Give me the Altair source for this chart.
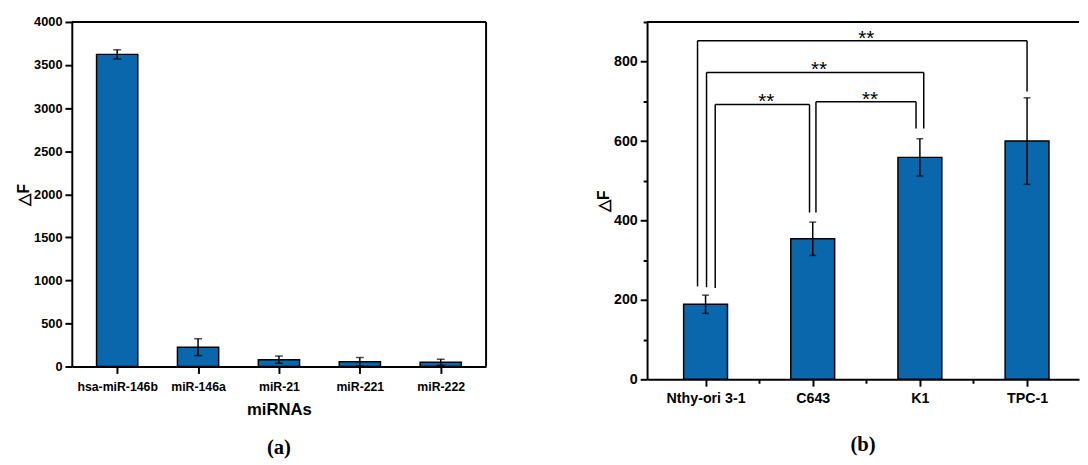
import json
import altair as alt
import pandas as pd

# ---------------- data ----------------
mirnas = ["hsa-miR-146b", "miR-146a", "miR-21", "miR-221", "miR-222"]
mirna_vals = [3624, 225, 80, 55, 50]
mirna_errs = [53, 98, 42, 50, 35]

cells = ["Nthy-ori 3-1", "C643", "K1", "TPC-1"]
cell_vals = [189, 354, 559, 600]
cell_errs = [23, 42, 47, 109]

# significance brackets (panel b)
br_left = ["Nthy-ori 3-1", "C643", "Nthy-ori 3-1", "Nthy-ori 3-1"]
br_right = ["C643", "K1", "K1", "TPC-1"]
br_top = [692, 699, 773, 853]
br_left_low = [230, 420, 232, 234]
br_right_low = [420, 632, 632, 725]
br_text = ["**", "**", "**", "**"]

# ---------------- styling ----------------
BLUE = "#0a67ab"
FONT = "Liberation Sans"
SERIF = "Liberation Serif"
WA, HA = 422, 351
WB, HB = 440, 364
# horizontal offsets of bracket legs from the bar centre (in category units)
LEG_OFF_L = [0.09, 0.03, 0.009, -0.075]
LEG_OFF_R = [-0.03, -0.036, 0.036, 0.0]

df_a = pd.DataFrame({"name": mirnas, "val": mirna_vals, "err": mirna_errs})
df_a["pos"] = range(len(mirnas))
df_a["lo"] = df_a["val"] - df_a["err"]
df_a["hi"] = df_a["val"] + df_a["err"]

df_b = pd.DataFrame({"name": cells, "val": cell_vals, "err": cell_errs})
df_b["pos"] = range(len(cells))
df_b["lo"] = df_b["val"] - df_b["err"]
df_b["hi"] = df_b["val"] + df_b["err"]

rows_h, rows_v, rows_t = [], [], []
for i in range(len(br_left)):
    xl = cells.index(br_left[i]) + LEG_OFF_L[i]
    xr = cells.index(br_right[i]) + LEG_OFF_R[i]
    rows_h.append({"x": xl, "x2": xr, "y": br_top[i]})
    rows_v.append({"x": xl, "y": br_left_low[i], "y2": br_top[i]})
    rows_v.append({"x": xr, "y": br_right_low[i], "y2": br_top[i]})
    rows_t.append({"x": (xl + xr) / 2, "y": br_top[i], "t": br_text[i]})
df_h = pd.DataFrame(rows_h)
df_v = pd.DataFrame(rows_v)
df_t = pd.DataFrame(rows_t)


def y_axis(major, step, maxv, title, lsize, tsize):
    vals = list(range(0, maxv + 1, step))
    return alt.Axis(
        values=vals,
        labelExpr=f"datum.value % {major} === 0 ? datum.label : ''",
        tickSize={"condition": {"test": f"datum.value % {major} === 0", "value": 7}, "value": 4},
        format="d",
        title=title,
        grid=False,
        labelFont=FONT, labelFontWeight="bold", labelFontSize=lsize, labelColor="black",
        titleFont=FONT, titleFontWeight="bold", titleFontSize=tsize, titleColor="black",
        domainColor="black", domainWidth=2, tickColor="black", tickWidth=2,
        labelPadding=3, titlePadding=2,
    )


def x_axis(vals, names, title, lsize, tsize, minor=False, lpad=4):
    arr = json.dumps(names)
    kw = {}
    if minor:
        kw["tickSize"] = {"condition": {"test": "datum.value % 1 === 0", "value": 7}, "value": 4}
    else:
        kw["tickSize"] = 7
    return alt.Axis(
        values=vals,
        labelExpr=f"{arr}[datum.value] || ''",
        title=title,
        grid=False,
        labelAngle=0,
        labelFont=FONT, labelFontWeight="bold", labelFontSize=lsize, labelColor="black",
        titleFont=FONT, titleFontWeight="bold", titleFontSize=tsize, titleColor="black",
        domainColor="black", domainWidth=2, tickColor="black", tickWidth=2,
        labelPadding=lpad, titlePadding=9, **kw,
    )


# ---------------- panel (a) ----------------
xa = alt.X("pos:Q", scale=alt.Scale(domain=[-0.5, len(mirnas) - 0.5], nice=False, zero=False),
           axis=x_axis(list(range(len(mirnas))), mirnas, "miRNAs", 12.5, 17, lpad=7))
ya = alt.Y("val:Q", scale=alt.Scale(domain=[0, 4000], nice=False),
           axis=y_axis(500, 250, 4000, "△F", 13, 16))

base_a = alt.Chart(df_a)
bars_a = base_a.mark_bar(size=42, color=BLUE, stroke="black", strokeWidth=1.5).encode(x=xa, y=ya)
err_a = base_a.mark_rule(color="black", strokeWidth=1.5).encode(x="pos:Q", y="lo:Q", y2="hi:Q")
caplo_a = base_a.mark_tick(orient="horizontal", size=8, thickness=1.5, color="black").encode(x="pos:Q", y="lo:Q")
caphi_a = base_a.mark_tick(orient="horizontal", size=8, thickness=1.5, color="black").encode(x="pos:Q", y="hi:Q")
frame_top_a = alt.Chart(df_a.head(1)).mark_rule(color="black", strokeWidth=2).encode(
    x=alt.value(0), x2=alt.value(WA), y=alt.value(0))
frame_right_a = alt.Chart(df_a.head(1)).mark_rule(color="black", strokeWidth=2).encode(
    x=alt.value(WA), y=alt.value(0), y2=alt.value(HA))

panel_a = alt.layer(bars_a, err_a, caplo_a, caphi_a, frame_top_a, frame_right_a).properties(
    width=WA, height=HA,
    title=alt.TitleParams("(a)", orient="bottom", font=SERIF, fontSize=21, fontWeight="bold",
                          anchor="middle", frame="group", offset=21, color="black"),
)

# ---------------- panel (b) ----------------
xmax_b = -0.5 + WB / 111.7
xs_b = alt.Scale(domain=[-0.5, xmax_b], nice=False, zero=False)
xb = alt.X("pos:Q", scale=xs_b,
           axis=x_axis([0, 0.5, 1, 1.5, 2, 2.5, 3], cells, None, 14.5, 16, minor=True, lpad=6))
ysb = alt.Scale(domain=[0, 900], nice=False)
yb = alt.Y("val:Q", scale=ysb, axis=y_axis(200, 100, 900, "△F", 14.5, 16))

base_b = alt.Chart(df_b)
bars_b = base_b.mark_bar(size=44.7, color=BLUE, stroke="black", strokeWidth=1.5).encode(x=xb, y=yb)
err_b = base_b.mark_rule(color="black", strokeWidth=1.5).encode(x="pos:Q", y="lo:Q", y2="hi:Q")
caplo_b = base_b.mark_tick(orient="horizontal", size=7, thickness=1.5, color="black").encode(x="pos:Q", y="lo:Q")
caphi_b = base_b.mark_tick(orient="horizontal", size=7, thickness=1.5, color="black").encode(x="pos:Q", y="hi:Q")
br_h = alt.Chart(df_h).mark_rule(color="black", strokeWidth=1.5).encode(
    x=alt.X("x:Q", scale=xs_b), x2="x2:Q", y=alt.Y("y:Q", scale=ysb))
br_v = alt.Chart(df_v).mark_rule(color="black", strokeWidth=1.5).encode(
    x=alt.X("x:Q", scale=xs_b), y=alt.Y("y:Q", scale=ysb), y2="y2:Q")
br_t = alt.Chart(df_t).mark_text(font=FONT, fontSize=21, baseline="alphabetic", dx=4, dy=4, color="black").encode(
    x=alt.X("x:Q", scale=xs_b), y=alt.Y("y:Q", scale=ysb), text="t:N")
frame_top_b = alt.Chart(df_b.head(1)).mark_rule(color="black", strokeWidth=2).encode(
    x=alt.value(0), x2=alt.value(WB), y=alt.value(0))

panel_b = alt.layer(bars_b, err_b, caplo_b, caphi_b, br_h, br_v, br_t, frame_top_b).properties(
    width=WB, height=HB,
    title=alt.TitleParams("(b)", orient="bottom", font=SERIF, fontSize=21, fontWeight="bold",
                          anchor="middle", frame="group", offset=30, color="black"),
)

chart = alt.hconcat(panel_a, panel_b, spacing=110).properties(
    padding={"left": 8, "top": 4, "right": 0, "bottom": 0}
).configure_view(stroke=None).configure_concat(spacing=110)

chart.save("out.html", embed_options={"renderer": "svg", "actions": False})
